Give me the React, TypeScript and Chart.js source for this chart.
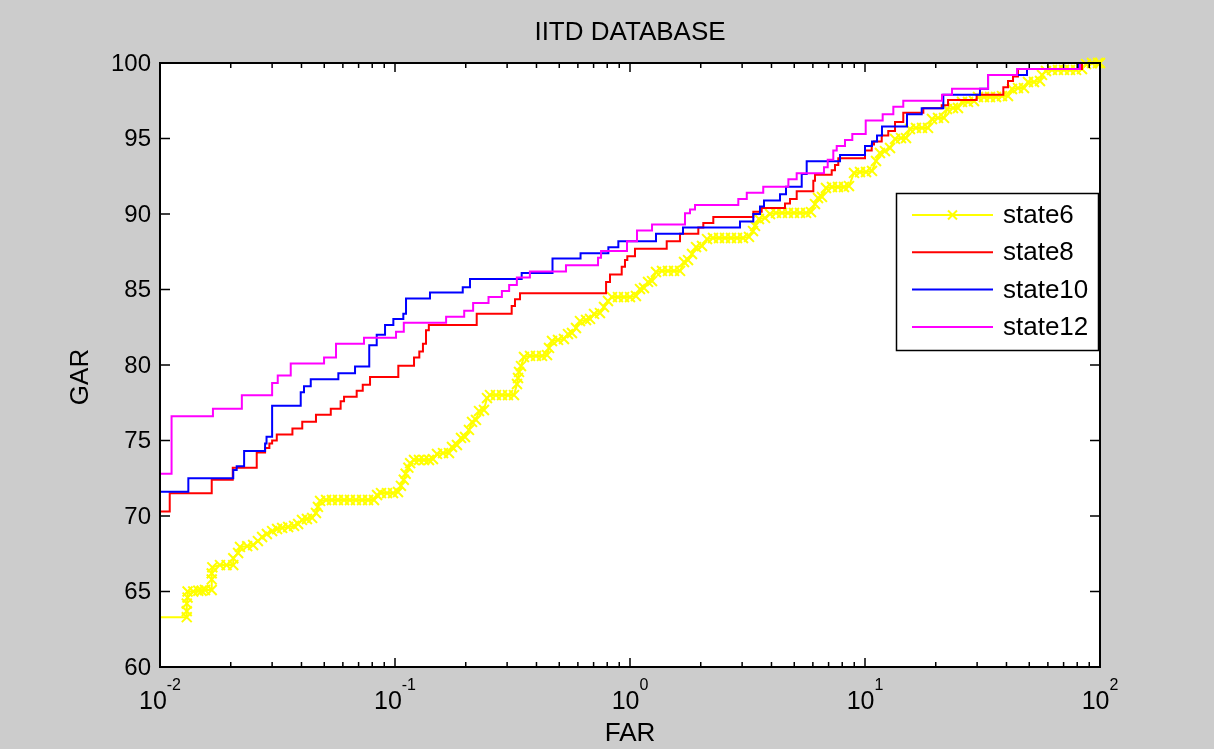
import React, { useEffect, useRef } from "react";
import { Chart, registerables } from "chart.js";

Chart.register(...registerables);

const FONT = '"Liberation Sans", Arial, Helvetica, sans-serif';

const chartTitle = "IITD DATABASE";
const xAxisTitle = "FAR";
const yAxisTitle = "GAR";

const seriesNames = ["state6", "state8", "state10", "state12"];
const seriesColors = ["#ffff00", "#ff0000", "#0000ff", "#ff00ff"];

const yTickValues = [60, 65, 70, 75, 80, 85, 90, 95, 100];
const xTickValues = [0.01, 0.1, 1, 10, 100];
const xTickExponents = ["-2", "-1", "0", "1", "2"];

// state6: many operating points, drawn with "x" markers
const state6Far = [
  0.005, 0.013, 0.013, 0.013, 0.0131, 0.0131, 0.01385, 0.01455, 0.01504, 0.01554,
  0.0166, 0.0166, 0.0166, 0.0167, 0.018, 0.0192, 0.0205, 0.0205, 0.0215, 0.0219,
  0.0235, 0.0249, 0.0261, 0.0272, 0.0285, 0.03, 0.0315, 0.0331, 0.0351, 0.0372,
  0.0387, 0.0402, 0.0422, 0.0444, 0.0461, 0.047, 0.048, 0.0509, 0.0539, 0.0572,
  0.0607, 0.0643, 0.0682, 0.0724, 0.0768, 0.0814, 0.0839, 0.0872, 0.0925, 0.0981,
  0.103, 0.106, 0.109, 0.111, 0.114, 0.116, 0.1205, 0.1265, 0.1328, 0.1395,
  0.1451, 0.1509, 0.1601, 0.1698, 0.1748, 0.1835, 0.1909, 0.1986, 0.2064, 0.2127,
  0.2211, 0.2278, 0.2391, 0.2463, 0.2537, 0.269, 0.2853, 0.3026, 0.3209, 0.3305,
  0.3338, 0.3371, 0.3438, 0.3538, 0.3754, 0.3981, 0.4222, 0.4436, 0.4523, 0.4657,
  0.4939, 0.5238, 0.5447, 0.5664, 0.5891, 0.6127, 0.65, 0.676, 0.703, 0.745,
  0.775, 0.806, 0.838, 0.889, 0.943, 1.0, 1.06, 1.103, 1.147, 1.193,
  1.241, 1.29, 1.368, 1.451, 1.539, 1.633, 1.698, 1.766, 1.836, 1.91,
  2.025, 2.127, 2.255, 2.392, 2.537, 2.69, 2.853, 3.026, 3.209, 3.338,
  3.404, 3.538, 3.754, 3.943, 4.181, 4.435, 4.703, 4.988, 5.29, 5.61,
  5.892, 6.126, 6.31, 6.561, 6.823, 7.237, 7.675, 8.139, 8.549, 8.979,
  9.522, 10.1, 10.71, 11.14, 11.58, 12.16, 12.78, 13.42, 14.23, 14.95,
  15.54, 16.48, 17.48, 18.54, 19.28, 20.45, 21.69, 22.34, 23.69, 24.87,
  25.87, 27.44, 29.1, 30.26, 32.09, 34.04, 36.1, 38.28, 40.6, 42.22,
  44.78, 47.49, 49.39, 52.38, 55.55, 56.65, 58.91, 62.48, 66.26, 70.27,
  74.54, 79.06, 83.83, 87.19, 92.47, 98.06, 100,
];
const state6Gar = [
  63.3, 63.3, 63.7, 64.2, 64.6, 65.0, 65.0, 65.05, 65.05, 65.1,
  65.1, 65.8, 66.2, 66.6, 66.75, 66.75, 66.75, 67.2, 67.55, 67.95,
  68.0, 68.08, 68.34, 68.61, 68.81, 69.0, 69.14, 69.21, 69.27, 69.34,
  69.47, 69.74, 69.8, 69.87, 70.2, 70.6, 71.0, 71.06, 71.06, 71.06,
  71.06, 71.06, 71.06, 71.06, 71.06, 71.06, 71.39, 71.52, 71.52, 71.52,
  71.59, 72.0, 72.4, 72.8, 73.2, 73.5, 73.71, 73.71, 73.71, 73.71,
  73.77, 74.11, 74.17, 74.17, 74.57, 74.7, 75.17, 75.23, 75.7, 76.23,
  76.36, 76.95, 77.02, 77.81, 78.01, 78.01, 78.01, 78.01, 78.01, 78.74,
  79.14, 79.54, 79.93, 80.53, 80.6, 80.6, 80.6, 80.66, 81.13, 81.59,
  81.66, 81.72, 82.05, 82.12, 82.45, 82.91, 82.98, 83.05, 83.38, 83.44,
  83.84, 84.24, 84.5, 84.5, 84.5, 84.5, 84.57, 85.03, 85.1, 85.5,
  85.56, 86.16, 86.23, 86.23, 86.23, 86.23, 86.82, 86.95, 87.35, 87.81,
  87.88, 88.34, 88.41, 88.41, 88.41, 88.41, 88.41, 88.41, 88.48, 88.87,
  89.21, 89.67, 89.74, 90.0, 90.07, 90.07, 90.07, 90.07, 90.07, 90.07,
  90.13, 90.66, 91.06, 91.13, 91.72, 91.79, 91.79, 91.79, 91.85, 92.72,
  92.78, 92.78, 92.85, 93.51, 94.04, 94.17, 94.37, 94.97, 95.03, 95.03,
  95.63, 95.7, 95.7, 95.7, 96.29, 96.36, 96.36, 96.95, 97.02, 97.02,
  97.42, 97.42, 97.48, 97.75, 97.75, 97.75, 97.75, 97.81, 97.81, 98.28,
  98.34, 98.34, 98.74, 98.74, 98.81, 99.21, 99.47, 99.54, 99.54, 99.54,
  99.54, 99.54, 99.6, 99.93, 100, 100, 100,
];

// state8: step curve, each point is where the curve jumps to a new level
const state8Far = [
  0.01, 0.011, 0.0166, 0.0204, 0.0258, 0.028, 0.0292, 0.03, 0.0314, 0.0366,
  0.0403, 0.0461, 0.0533, 0.0587, 0.0607, 0.0687, 0.0729, 0.0783, 0.1033, 0.1205,
  0.1269, 0.1315, 0.1355, 0.1393, 0.2227, 0.3137, 0.324, 0.3404, 0.791, 0.822,
  0.922, 0.952, 0.974, 1.05, 1.433, 1.632, 1.953, 2.051, 2.262, 3.347,
  3.634, 4.566, 4.796, 5.122, 6.026, 6.126, 7.216, 7.452, 7.697, 10.0,
  10.68, 10.92, 11.78, 12.56, 13.42, 14.55, 17.71, 21.21, 22.56, 29.87,
  38.78, 40.6, 42.65, 44.78, 83.8, 100,
];
const state8Gar = [
  70.3, 71.5, 72.4, 73.2, 74.2, 74.5, 74.8, 75.0, 75.4, 75.8,
  76.25, 76.7, 77.1, 77.6, 77.9, 78.3, 78.7, 79.2, 79.95, 80.5,
  80.9, 81.4, 82.3, 82.65, 83.4, 83.9, 84.35, 84.75, 85.5, 86.0,
  86.5, 86.95, 87.2, 87.7, 88.2, 88.7, 89.1, 89.4, 89.8, 90.15,
  90.4, 90.7, 91.0, 91.5, 92.2, 92.6, 92.9, 93.25, 93.7, 94.2,
  94.6, 94.8, 95.2, 95.5, 96.1, 96.7, 97.0, 97.2, 97.55, 97.9,
  98.4, 98.8, 99.1, 99.6, 100, 100,
];

// state10
const state10Far = [
  0.01, 0.0132, 0.0205, 0.0212, 0.0228, 0.028, 0.0284, 0.03, 0.0397, 0.041,
  0.0438, 0.0574, 0.0676, 0.0777, 0.0836, 0.0907, 0.0984, 0.1085, 0.1114, 0.1409,
  0.1942, 0.2085, 0.346, 0.468, 0.616, 0.809, 0.892, 1.29, 1.681, 2.938,
  3.347, 3.574, 3.717, 4.348, 4.611, 5.379, 5.648, 7.83, 10.0, 10.71,
  11.25, 11.81, 15.09, 17.43, 21.54, 30.86, 33.4, 48.9, 81.4, 100,
];
const state10Gar = [
  71.6, 72.5, 73.05, 73.3, 74.3, 74.8, 75.25, 77.3, 78.2, 78.6,
  79.05, 79.45, 79.9, 81.3, 82.0, 82.65, 83.05, 83.4, 84.4, 84.8,
  85.15, 85.7, 86.1, 87.05, 87.4, 87.8, 88.2, 88.7, 89.1, 89.5,
  90.0, 90.5, 90.9, 91.3, 91.8, 92.65, 93.5, 93.9, 94.5, 94.8,
  95.2, 95.8, 96.6, 97.0, 97.9, 98.3, 99.2, 99.6, 100, 100,
];

// state12
const state12Far = [
  0.01, 0.0112, 0.0168, 0.0223, 0.03, 0.0317, 0.036, 0.0499, 0.0561, 0.0738,
  0.101, 0.109, 0.165, 0.197, 0.215, 0.25, 0.285, 0.306, 0.33, 0.375,
  0.534, 0.731, 0.753, 0.971, 1.071, 1.241, 1.714, 1.8, 1.891, 2.89,
  3.14, 3.69, 4.72, 5.12, 6.69, 6.94, 7.33, 7.58, 8.22, 8.83,
  10.07, 11.89, 13.2, 14.55, 21.27, 23.46, 33.39, 44.36, 82.2, 100,
];
const state12Gar = [
  72.8, 76.6, 77.1, 78.0, 78.8, 79.3, 80.1, 80.5, 81.4, 81.8,
  82.2, 82.8, 83.2, 83.6, 84.1, 84.5, 84.9, 85.3, 85.8, 86.2,
  86.6, 87.1, 87.55, 88.2, 88.9, 89.3, 90.05, 90.3, 90.6, 91.0,
  91.4, 91.8, 92.3, 92.7, 93.1, 93.6, 94.2, 94.5, 94.9, 95.3,
  96.2, 96.6, 97.1, 97.5, 97.9, 98.3, 99.2, 99.6, 100, 100,
];

const toPoints = (far: number[], gar: number[]) =>
  far.map((x, i) => ({ x, y: gar[i] }));

const drawCross = (ctx: CanvasRenderingContext2D, x: number, y: number, r: number) => {
  ctx.beginPath();
  ctx.moveTo(x - r, y - r);
  ctx.lineTo(x + r, y + r);
  ctx.moveTo(x - r, y + r);
  ctx.lineTo(x + r, y - r);
  ctx.stroke();
};

// Figure background, white axes, box with inward ticks, labels and legend
const figurePlugin = {
  id: "figure",
  beforeDraw(chart: any) {
    const { ctx, chartArea: a } = chart;
    ctx.save();
    ctx.fillStyle = "#cccccc";
    ctx.fillRect(0, 0, chart.width, chart.height);
    ctx.fillStyle = "#ffffff";
    ctx.fillRect(a.left, a.top, a.right - a.left, a.bottom - a.top);
    ctx.restore();
  },
  afterDatasetsDraw(chart: any) {
    const { ctx, chartArea: a, scales } = chart;
    const xs = scales.x;
    const ys = scales.y;
    ctx.save();

    // box
    ctx.strokeStyle = "#000000";
    ctx.lineWidth = 2;
    ctx.strokeRect(a.left, a.top, a.right - a.left, a.bottom - a.top);

    // y ticks on both sides
    ctx.beginPath();
    yTickValues.forEach((v) => {
      const y = ys.getPixelForValue(v);
      ctx.moveTo(a.left, y);
      ctx.lineTo(a.left + 10, y);
      ctx.moveTo(a.right, y);
      ctx.lineTo(a.right - 10, y);
    });
    // x major ticks at bottom and top
    xTickValues.forEach((v) => {
      const x = xs.getPixelForValue(v);
      ctx.moveTo(x, a.bottom);
      ctx.lineTo(x, a.bottom - 9);
      ctx.moveTo(x, a.top);
      ctx.lineTo(x, a.top + 9);
    });
    // x minor ticks
    xTickValues.slice(0, -1).forEach((d) => {
      for (let k = 2; k <= 9; k++) {
        const x = xs.getPixelForValue(d * k);
        ctx.moveTo(x, a.bottom);
        ctx.lineTo(x, a.bottom - 5);
        ctx.moveTo(x, a.top);
        ctx.lineTo(x, a.top + 5);
      }
    });
    ctx.lineWidth = 1.5;
    ctx.stroke();

    ctx.fillStyle = "#000000";

    // y tick labels
    ctx.font = `24px ${FONT}`;
    ctx.textAlign = "right";
    ctx.textBaseline = "middle";
    yTickValues.forEach((v) => {
      ctx.fillText(String(v), a.left - 9, ys.getPixelForValue(v) + 1);
    });

    // x tick labels as powers of ten
    ctx.textAlign = "left";
    ctx.textBaseline = "alphabetic";
    xTickValues.forEach((v, i) => {
      const x = xs.getPixelForValue(v);
      ctx.font = `25px ${FONT}`;
      const w1 = ctx.measureText("10").width;
      ctx.font = `16px ${FONT}`;
      const w2 = ctx.measureText(xTickExponents[i]).width;
      const start = x - (w1 + w2) / 2;
      ctx.font = `25px ${FONT}`;
      ctx.fillText("10", start, a.bottom + 42);
      ctx.font = `16px ${FONT}`;
      ctx.fillText(xTickExponents[i], start + w1, a.bottom + 23);
    });

    // titles
    ctx.textAlign = "center";
    ctx.textBaseline = "middle";
    ctx.font = `26px ${FONT}`;
    const cx = (a.left + a.right) / 2;
    ctx.fillText(chartTitle, cx, 33);
    ctx.fillText(xAxisTitle, cx, a.bottom + 67);
    ctx.save();
    ctx.translate(81, (a.top + a.bottom) / 2 + 12);
    ctx.rotate(-Math.PI / 2);
    ctx.fillText(yAxisTitle, 0, 0);
    ctx.restore();

    // legend
    const lx = 896;
    const ly = 193;
    const lw = 202;
    const lh = 157;
    ctx.fillStyle = "#ffffff";
    ctx.fillRect(lx, ly, lw, lh);
    ctx.strokeStyle = "#000000";
    ctx.lineWidth = 1.5;
    ctx.strokeRect(lx + 0.5, ly + 0.5, lw, lh);
    chart.data.datasets.forEach((ds: any, i: number) => {
      const y = ly + 22 + i * 37.3;
      ctx.strokeStyle = ds.borderColor;
      ctx.lineWidth = 2;
      ctx.beginPath();
      ctx.moveTo(912, y);
      ctx.lineTo(993, y);
      ctx.stroke();
      if (ds.pointRadius > 0) {
        ctx.lineWidth = 2;
        drawCross(ctx, 952.5, y, 4.5);
      }
      ctx.fillStyle = "#000000";
      ctx.font = `26px ${FONT}`;
      ctx.textAlign = "left";
      ctx.textBaseline = "middle";
      ctx.fillText(ds.label, 1003, y + 1);
    });

    ctx.restore();
  },
};

export default function App() {
  const canvasRef = useRef<HTMLCanvasElement>(null);

  useEffect(() => {
    document.body.style.margin = "0";
    document.body.style.overflow = "hidden";
    const canvas = canvasRef.current;
    if (!canvas) return;

    const stepLine = (i: number, far: number[], gar: number[], order: number) => ({
      label: seriesNames[i],
      data: toPoints(far, gar),
      borderColor: seriesColors[i],
      backgroundColor: seriesColors[i],
      borderWidth: 2,
      pointRadius: 0,
      pointHoverRadius: 0,
      stepped: "before" as const,
      fill: false,
      order,
    });

    const chart = new Chart(canvas, {
      type: "line",
      data: {
        datasets: [
          {
            label: seriesNames[0],
            data: toPoints(state6Far, state6Gar),
            borderColor: seriesColors[0],
            backgroundColor: seriesColors[0],
            borderWidth: 2,
            pointStyle: "crossRot",
            pointRadius: 7,
            pointHoverRadius: 7,
            pointBorderWidth: 2,
            pointBorderColor: seriesColors[0],
            fill: false,
            tension: 0,
            order: 3,
            clip: { left: 0, top: 8, right: 8, bottom: 0 },
          } as any,
          stepLine(1, state8Far, state8Gar, 2),
          stepLine(2, state10Far, state10Gar, 1),
          stepLine(3, state12Far, state12Gar, 0),
        ],
      },
      options: {
        animation: false,
        responsive: false,
        devicePixelRatio: 1,
        events: [],
        layout: { padding: { left: 160, top: 63, right: 114, bottom: 82 } },
        scales: {
          x: { type: "logarithmic", min: 0.01, max: 100, display: false },
          y: { type: "linear", min: 60, max: 100, display: false },
        },
        plugins: {
          legend: { display: false },
          tooltip: { enabled: false },
          title: { display: false },
        },
      },
      plugins: [figurePlugin],
    });

    return () => chart.destroy();
  }, []);

  return (
    <canvas
      ref={canvasRef}
      width={1214}
      height={749}
      style={{ display: "block", width: 1214, height: 749 }}
    />
  );
}
